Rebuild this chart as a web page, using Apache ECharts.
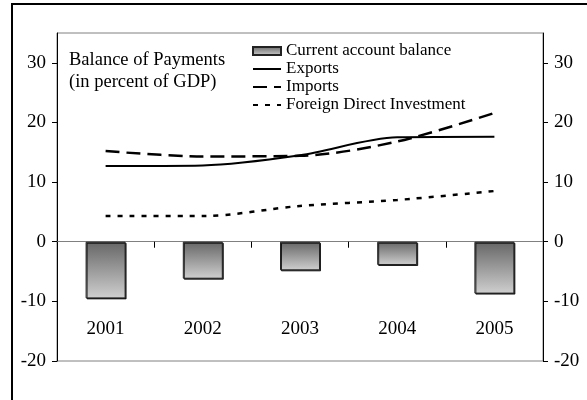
<!DOCTYPE html>
<html>
<head>
<meta charset="utf-8">
<script src="https://cdn.jsdelivr.net/npm/echarts@6/dist/echarts.min.js"></script>
<style>
  html, body { margin: 0; padding: 0; background: #fff; }
  #chart { width: 587px; height: 400px; }
</style>
</head>
<body>
<div id="chart"></div>
<script>
// years on the category axis
var years = ["2001", "2002", "2003", "2004", "2005"];
// percent of GDP
var currentAccount = [-9.5, -6.2, -4.8, -3.9, -8.7];
var exportsPct = [12.7, 12.8, 14.5, 17.5, 17.6];
var importsPct = [15.2, 14.3, 14.4, 16.8, 21.6];
var fdiPct = [4.3, 4.3, 6.0, 7.0, 8.5];

var font = "Liberation Serif";
var chart = echarts.init(document.getElementById("chart"));

// y axis shared setup (left and right look the same)
function valueAxis(pos) {
  return {
    type: "value",
    position: pos,
    min: -20,
    max: 35,
    interval: 10,
    splitLine: { show: false },
    axisLine: { show: true, lineStyle: { color: "#000", width: 1 } },
    axisTick: { show: true, length: 5, lineStyle: { color: "#000" } },
    axisLabel: {
      showMaxLabel: false,
      margin: 11,
      color: "#000",
      fontFamily: font,
      fontSize: 19
    }
  };
}

// line legend entries: keep the line, hide the dot
var hideDot = { color: "transparent", borderWidth: 0, opacity: 0 };

var option = {
  animation: false,
  backgroundColor: "#fff",
  textStyle: { fontFamily: font },
  graphic: [
    {
      type: "rect",
      shape: { x: 12, y: 4, width: 600, height: 420 },
      style: { fill: null, stroke: "#000", lineWidth: 2 },
      silent: true
    }
  ],
  title: {
    text: "Balance of Payments\n(in percent of GDP)",
    left: 64,
    top: 44,
    textStyle: {
      fontFamily: font,
      fontSize: 18.5,
      fontWeight: "normal",
      color: "#000",
      lineHeight: 22
    }
  },
  legend: {
    left: 252,
    top: 42,
    padding: 0,
    orient: "vertical",
    itemWidth: 28,
    itemHeight: 8,
    itemGap: 0,
    textStyle: { fontFamily: font, fontSize: 17, color: "#000", lineHeight: 18 },
    data: [
      { name: "Current account balance", icon: "rect" },
      { name: "Exports", itemStyle: hideDot },
      { name: "Imports", itemStyle: hideDot },
      { name: "Foreign Direct Investment", itemStyle: hideDot }
    ]
  },
  grid: {
    left: 57,
    right: 44,
    top: 33,
    bottom: 39,
    outerBoundsMode: "none",
    containLabel: false,
    show: true,
    borderColor: "#808080",
    borderWidth: 1
  },
  xAxis: {
    type: "category",
    data: years,
    axisLine: { onZero: true, lineStyle: { color: "#808080" } },
    axisTick: { show: true, inside: false, length: 6, lineStyle: { color: "#000" } },
    axisLabel: { margin: -41, color: "#000", fontFamily: font, fontSize: 19 }
  },
  yAxis: [valueAxis("left"), valueAxis("right")],
  series: [
    {
      name: "Current account balance",
      type: "bar",
      data: currentAccount,
      barWidth: 40,
      itemStyle: {
        color: new echarts.graphic.LinearGradient(0, 0, 0, 1, [
          { offset: 0, color: "#666" },
          { offset: 1, color: "#cfcfcf" }
        ]),
        borderColor: "#222",
        borderWidth: 1,
        shadowColor: "rgba(0,0,0,0.8)",
        shadowOffsetX: 1,
        shadowOffsetY: 1
      }
    },
    {
      name: "Exports",
      type: "line",
      data: exportsPct,
      smooth: 0.3,
      symbol: "none",
      lineStyle: { color: "#000", width: 2 },
      itemStyle: { color: "#000" }
    },
    {
      name: "Imports",
      type: "line",
      data: importsPct,
      smooth: 0.3,
      symbol: "none",
      lineStyle: { color: "#000", width: 2.5, type: [14, 7] },
      itemStyle: { color: "#000" }
    },
    {
      name: "Foreign Direct Investment",
      type: "line",
      data: fdiPct,
      smooth: 0.3,
      symbol: "none",
      lineStyle: { color: "#000", width: 2.5, type: [5, 7] },
      itemStyle: { color: "#000" }
    }
  ]
};

chart.setOption(option);
window.addEventListener("resize", function () {
  chart.resize();
});
</script>
</body>
</html>
